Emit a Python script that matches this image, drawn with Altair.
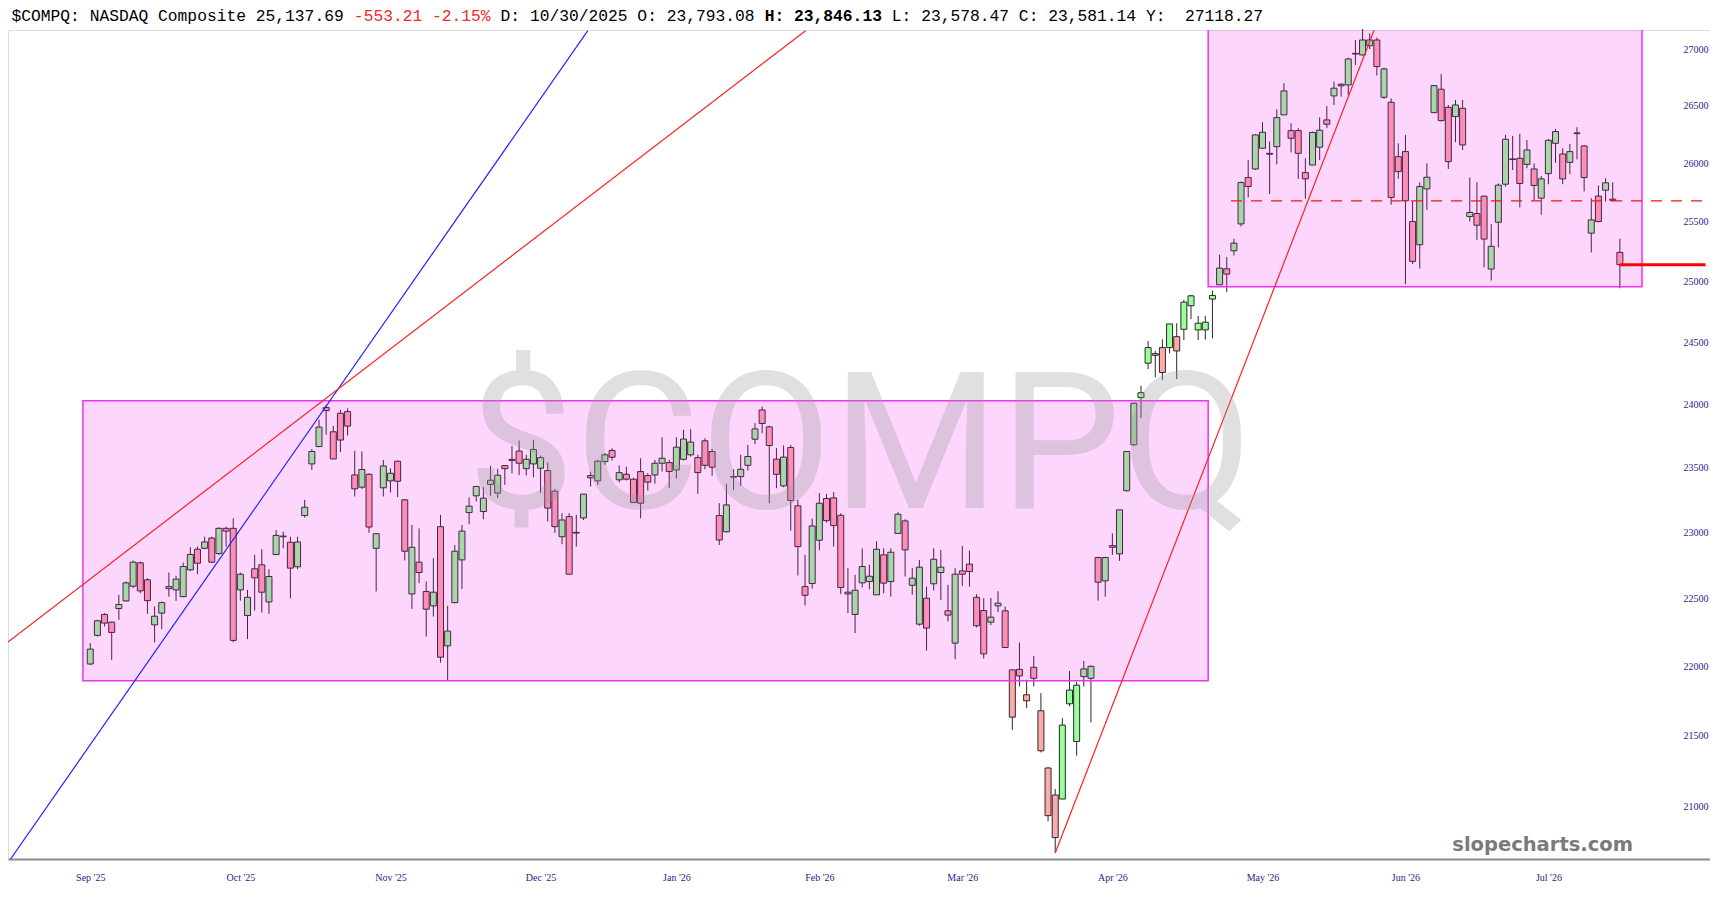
import json
import altair as alt
import pandas as pd

# ---------------- data ----------------
opens = [22017, 22227, 22382, 22325, 22426, 22483, 22593, 22769, 22641, 22305,
         22392, 22590, 22565, 22515, 22716, 22872, 22879, 22957, 22839, 23031,
         23031, 22565, 22374, 22724, 22754, 22475, 22832, 22972, 22925, 22739,
         23129, 23529, 23665, 23973, 23781, 23928, 23941, 23443, 23348, 23448,
         22879, 23343, 23397, 23550, 23250, 22535, 22774, 22553, 22446, 23044,
         22150, 22470, 22791, 23152, 23281, 23160, 23369, 23302, 23516, 23565,
         23629, 23492, 23529, 23495, 23477, 23317, 22967, 23121, 23000, 23111,
         23438, 23397, 23547, 23634, 23405, 23448, 23410, 23469, 23438, 23443,
         23534, 23539, 23482, 23565, 23600, 23578, 23710, 23626, 23129, 23005,
         23430, 23430, 23518, 23723, 23954, 23820, 23566, 23358, 23657, 23204,
         22590, 22613, 22940, 23260, 23265, 23131, 22548, 22382, 22618, 22628,
         22528, 22829, 22628, 22992, 23088, 22600, 22310, 22503, 22611, 22696,
         22409, 22170, 22708, 22759, 22510, 22411, 22325, 22446, 22409, 21974,
         21978, 21793, 21993, 21678, 21270, 21080, 21052, 21728, 21458, 21925,
         21913, 22809, 22633, 22899, 22837, 23320, 23679, 24053, 24329, 24406,
         24455, 24455, 24544, 24604, 24797, 24599, 24599, 24852, 24970, 25103,
         25254, 25480, 25875, 25949, 26128, 26084, 26142, 26419, 26282, 26282,
         25918, 25983, 26137, 26375, 26586, 26689, 26683, 26964, 26950, 27033,
         27084, 26574, 26530, 26055, 26099, 25500, 25304, 25778, 26439, 26645,
         26485, 26404, 26477, 25543, 25568, 25716, 25101, 25494, 25818, 26035,
         26041, 25989, 25949, 25699, 25909, 26171, 26078, 26006, 26262, 26148,
         25402, 25716, 25767, 25690, 25240]
highs = [22170, 22342, 22392, 22330, 22528, 22628, 22786, 22779, 22653, 22441,
         22478, 22696, 22671, 22771, 22887, 22892, 22967, 22967, 23039, 23044,
         23108, 22696, 22565, 22829, 22872, 22721, 23018, 23005, 22967, 22967,
         23250, 23645, 23876, 23994, 23828, 23954, 23967, 23631, 23626, 23456,
         22990, 23560, 23495, 23555, 23255, 23057, 23031, 22628, 22804, 23134,
         22446, 22905, 23057, 23268, 23353, 23348, 23513, 23490, 23520, 23670,
         23712, 23600, 23718, 23594, 23539, 23332, 23147, 23147, 23134, 23294,
         23469, 23560, 23613, 23652, 23518, 23508, 23420, 23573, 23456, 23560,
         23739, 23560, 23739, 23797, 23802, 23600, 23731, 23647, 23224, 23374,
         23487, 23600, 23678, 23849, 23981, 23830, 23652, 23673, 23678, 23250,
         22829, 23106, 23302, 23296, 23309, 23147, 22729, 22678, 22879, 22754,
         22932, 22879, 22879, 23155, 23101, 22729, 22791, 22590, 22879, 22867,
         22603, 22729, 22897, 22862, 22533, 22503, 22505, 22555, 22441, 21978,
         22175, 21901, 22076, 21805, 21275, 21122, 21625, 21966, 21887, 22039,
         22007, 22815, 22815, 22992, 23173, 23630, 24010, 24147, 24508, 24428,
         24522, 24648, 24654, 24846, 24887, 24714, 24714, 24923, 25221, 25201,
         25355, 25841, 26026, 26250, 26355, 26186, 26468, 26698, 26346, 26302,
         26041, 26273, 26398, 26497, 26713, 26698, 26926, 27084, 27183, 27144,
         27105, 26837, 26565, 26171, 26244, 25670, 25835, 25997, 26683, 26781,
         26506, 26550, 26550, 25875, 25835, 25720, 25478, 25824, 26244, 26235,
         26253, 26200, 25997, 25889, 26209, 26296, 26128, 26166, 26311, 26157,
         25699, 25807, 25869, 25835, 25355]
lows = [22010, 22219, 22293, 22047, 22342, 22478, 22578, 22540, 22387, 22175,
        22273, 22515, 22483, 22510, 22708, 22683, 22872, 22766, 22829, 22892,
        22177, 22485, 22200, 22411, 22397, 22387, 22827, 22879, 22502, 22721,
        23113, 23482, 23660, 23757, 23565, 23621, 23752, 23276, 23335, 22997,
        22553, 23276, 23307, 23271, 22787, 22424, 22616, 22219, 22367, 22027,
        21900, 22465, 22573, 23062, 23237, 23101, 23281, 23263, 23366, 23456,
        23443, 23438, 23425, 23302, 23083, 22997, 22910, 22683, 22892, 23095,
        23353, 23366, 23521, 23555, 23384, 23400, 23225, 23108, 23322, 23374,
        23469, 23340, 23415, 23555, 23586, 23297, 23487, 23438, 22905, 22997,
        23327, 23358, 23477, 23684, 23770, 23224, 23340, 23348, 23013, 22673,
        22448, 22575, 22864, 23075, 22892, 22533, 22392, 22244, 22583, 22570,
        22528, 22540, 22515, 22992, 22666, 22528, 22298, 22116, 22560, 22490,
        22330, 22052, 22595, 22590, 22286, 22057, 22303, 22399, 22133, 21541,
        21853, 21697, 21853, 21380, 20897, 20678, 21052, 21709, 21357, 21853,
        21594, 22485, 22515, 22829, 22784, 23315, 23670, 23889, 24281, 24214,
        24195, 24409, 24201, 24516, 24687, 24516, 24520, 24530, 24970, 24909,
        25215, 25458, 25705, 25940, 26128, 25733, 25989, 26419, 26093, 25864,
        25693, 25983, 26026, 26302, 26507, 26580, 26589, 26861, 26944, 27003,
        26766, 26559, 25642, 25864, 24975, 25143, 25106, 25600, 26433, 26361,
        25949, 26180, 26113, 25500, 25346, 25115, 25006, 25282, 25798, 25940,
        25619, 25955, 25676, 25557, 25818, 26003, 25818, 25903, 26032, 25756,
        25240, 25494, 25670, 25676, 24942]
closes = [22126, 22335, 22318, 22249, 22456, 22618, 22774, 22558, 22485, 22369,
          22470, 22575, 22646, 22741, 22832, 22766, 22927, 22774, 23031, 23010,
          22190, 22683, 22510, 22656, 22548, 22666, 22977, 22967, 22729, 22927,
          23193, 23626, 23818, 23949, 23568, 23716, 23826, 23335, 23485, 23041,
          22990, 23513, 23456, 23394, 22857, 22887, 22696, 22421, 22548, 22067,
          22259, 22857, 23010, 23201, 23353, 23263, 23402, 23441, 23492, 23555,
          23534, 23565, 23642, 23578, 23186, 23044, 23095, 22683, 22995, 23294,
          23420, 23550, 23600, 23581, 23461, 23410, 23229, 23224, 23387, 23534,
          23573, 23469, 23660, 23724, 23700, 23461, 23518, 23503, 22942, 23211,
          23426, 23487, 23587, 23804, 23847, 23673, 23448, 23582, 23245, 22892,
          22525, 23049, 23224, 23090, 23052, 22583, 22535, 22563, 22741, 22668,
          22872, 22616, 22849, 23139, 22867, 22653, 22736, 22281, 22796, 22736,
          22377, 22683, 22683, 22703, 22298, 22091, 22362, 22466, 22138, 21632,
          21930, 21750, 21913, 21392, 20936, 20784, 21575, 21827, 21863, 21981,
          22000, 22623, 22809, 22887, 23173, 23626, 24008, 24091, 24455, 24393,
          24254, 24648, 24428, 24827, 24879, 24654, 24662, 24882, 25109, 25059,
          25318, 25832, 25798, 26244, 26267, 26076, 26395, 26630, 26215, 26084,
          25864, 26265, 26285, 26337, 26654, 26675, 26914, 26958, 27084, 27084,
          26846, 26825, 25705, 25926, 25676, 25165, 25798, 25878, 26677, 26369,
          26012, 26506, 26157, 25577, 25469, 25352, 25291, 25810, 26206, 26030,
          25824, 26113, 25807, 25864, 26197, 26273, 25864, 26099, 26255, 25875,
          25514, 25500, 25830, 25680, 25137.69]

month_idx = [0, 21, 42, 63, 82, 102, 122, 143, 164, 184, 204]
month_lbl = ["Sep '25", "Oct '25", "Nov '25", "Dec '25", "Jan '26", "Feb '26",
             "Mar '26", "Apr '26", "May '26", "Jun '26", "Jul '26"]
y_ticks = [21000, 21500, 22000, 22500, 23000, 23500, 24000, 24500, 25000,
           25500, 26000, 26500, 27000]

# annotation boxes (index range, price range)
box_x1 = [-1.03, 156.4]
box_x2 = [156.4, 217.1]
box_y1 = [21894, 24955]
box_y2 = [24028, 27600]

# trend lines (index, price) -> (index, price)
tl_color = ["#2222ff", "#ff2020", "#ff2020"]
tl_x1 = [-11.15, -11.92, 135]
tl_y1 = [20637, 22162, 20678]
tl_x2 = [69.61, 100.08, 179.62]
tl_y2 = [27168, 27168, 27174]

dash_level = [25676]
dash_from = [159.6]
last_level = [25137.69]
last_from = [214]
x_end = [226]

header_parts = ["$COMPQ: NASDAQ Composite 25,137.69 ", "-553.21 -2.15%",
                " D: 10/30/2025 O: 23,793.08 ", "H: 23,846.13",
                " L: 23,578.47 C: 23,581.14 Y:  27118.27"]
header_colors = ["#000000", "#ee2a2a", "#000000", "#000000", "#000000"]
header_weights = ["normal", "normal", "normal", "bold", "normal"]

# ---------------- frames ----------------
df = pd.DataFrame({"i": list(range(len(opens))), "o": opens, "h": highs,
                   "l": lows, "c": closes})
df["dir"] = ["up" if c >= o else "down" for o, c in zip(opens, closes)]

boxes = pd.DataFrame({"x1": box_x1, "x2": box_x2, "y1": box_y1, "y2": box_y2})
tl = pd.DataFrame({"x1": tl_x1, "y1": tl_y1, "x2": tl_x2, "y2": tl_y2, "col": tl_color})
dash = pd.DataFrame({"x1": dash_from, "x2": x_end, "y": dash_level})
last = pd.DataFrame({"x1": last_from, "x2": x_end, "y": last_level})

NAVY = "#1e1e8c"
label_map = json.dumps({str(k): v for k, v in zip(month_idx, month_lbl)})

xscale = alt.Scale(domain=[-10.81, 225.91], nice=False, zero=False)
yscale = alt.Scale(type="log", domain=[20637, 27174], nice=False, zero=False)
xaxis = alt.Axis(values=month_idx, labelExpr=label_map + "[datum.value + '']",
                 title=None, ticks=False, grid=False, domainColor="#8a8a8a",
                 domainWidth=2, labelColor=NAVY, labelFont="Liberation Serif",
                 labelFontSize=10, labelPadding=13, labelFlush=False,
                 labelOverlap=False)
yaxis = alt.Axis(values=y_ticks, format="d", orient="right", title=None,
                 ticks=False, grid=False, domain=False, labelColor=NAVY,
                 labelFont="Liberation Serif", labelFontSize=10,
                 labelAlign="left", labelBaseline="middle", labelPadding=-27)


def X(f):
    return alt.X(f, type="quantitative", scale=xscale, axis=xaxis)


def Y(f):
    return alt.Y(f, type="quantitative", scale=yscale, axis=yaxis)


base = alt.Chart(df)
wicks = base.mark_rule(color="#2a2a2a", strokeWidth=1).encode(
    x=X("i"), y=Y("l"), y2="h")
bodies = base.mark_bar(size=6, stroke="#2a2a2a", strokeWidth=1).encode(
    x=X("i"), y=Y("o"), y2="c",
    color=alt.Color("dir:N", scale=alt.Scale(domain=["up", "down"],
                                             range=["#99ff99", "#ffaaaa"]),
                    legend=None))

box_layer = alt.Chart(boxes).mark_rect(
    fill="#f000f0", fillOpacity=0.16, stroke="#ee33ee", strokeWidth=1.5,
    clip=True).encode(x=X("x1"), x2="x2", y=Y("y1"), y2="y2")

tl_layer = alt.Chart(tl).mark_rule(strokeWidth=1.2, clip=True).encode(
    x=X("x1"), x2="x2", y=Y("y1"), y2="y2",
    color=alt.Color("col:N", scale=None))

dash_layer = alt.Chart(dash).mark_rule(
    color="#ff1010", strokeWidth=1.3, strokeDash=[11, 9], clip=True).encode(
    x=X("x1"), x2="x2", y=Y("y"))

last_layer = alt.Chart(last).mark_rule(
    color="#ff0000", strokeWidth=3, clip=True).encode(
    x=X("x1"), x2="x2", y=Y("y"))

watermark = alt.Chart(pd.DataFrame({"t": ["$COMPQ"]})).mark_text(
    font="Roboto", fontSize=192, fill="#9a9a9a", opacity=0.30,
    align="center", baseline="alphabetic").encode(
    text="t:N", x=alt.value(852), y=alt.value(478))

brand = alt.Chart(pd.DataFrame({"t": ["slopecharts.com"]})).mark_text(
    font="DejaVu Sans", fontWeight="bold", fontSize=19.5, fill="#7a7a7a",
    align="right", baseline="alphabetic").encode(
    text="t:N", x=alt.value(1625), y=alt.value(821))

FONT_SIZE = 16.3
CHAR_W = FONT_SIZE * 0.6001
header_layers = []
pos = 0
for txt, col, wt in zip(header_parts, header_colors, header_weights):
    lead = len(txt) - len(txt.lstrip(" "))
    shown = txt.strip().replace(" ", "\u00a0")
    header_layers.append(
        alt.Chart(pd.DataFrame({"t": [shown]})).mark_text(
            font="Liberation Mono", fontSize=FONT_SIZE, fontWeight=wt, fill=col,
            align="left", baseline="alphabetic").encode(
            text="t:N", x=alt.value(3.5 + (pos + lead) * CHAR_W),
            y=alt.value(-9)))
    pos += len(txt)

chart = alt.layer(
    wicks, bodies, box_layer, tl_layer, dash_layer, last_layer,
    watermark, brand, *header_layers
).properties(
    width=1702, height=829,
    autosize=alt.AutoSizeParams(type="none"),
    padding={"left": 0, "top": 22, "right": 0, "bottom": 30},
).configure_view(stroke=None).configure(background="white")

chart.save("out.html", embed_options={"renderer": "svg", "actions": False})
